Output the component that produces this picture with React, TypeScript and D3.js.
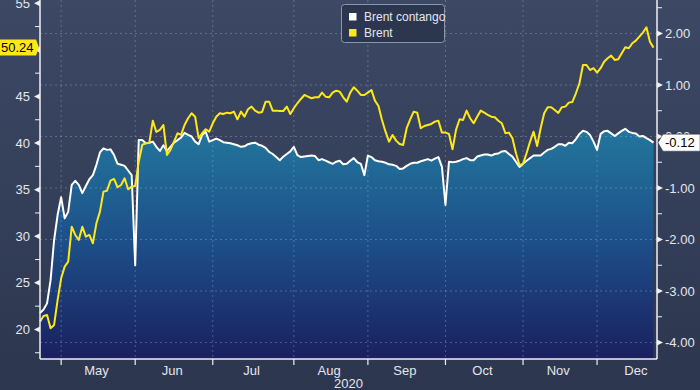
import * as d3 from 'd3';

// Brent front-month price, USD (left axis), one value per weekday from 23 Apr 2020
const BRENT = [
  20.84, 21.45, 21.56, 20.13, 20.48, 23.17, 25.49, 26.74, 27.27, 31.03,
  30.14, 29.60, 31.03, 29.96, 30.14, 29.25, 31.39, 32.64, 34.79, 34.89,
  35.97, 36.15, 35.26, 35.50, 36.22, 35.04, 35.32, 35.40, 38.00, 39.80,
  39.98, 40.04, 42.40, 41.19, 41.41, 41.94, 38.72, 39.26, 40.15, 41.05,
  40.87, 41.94, 42.66, 43.20, 42.83, 40.52, 41.05, 41.48, 41.22, 42.12,
  42.83, 43.20, 43.12, 43.26, 43.20, 43.37, 42.55, 43.37, 42.83, 43.63,
  43.91, 43.48, 43.26, 43.34, 44.44, 44.44, 43.48, 43.48, 43.44, 43.44,
  43.91, 43.12, 43.73, 44.27, 44.73, 45.16, 44.98, 44.81, 44.91, 44.91,
  45.41, 44.98, 44.91, 45.41, 45.62, 45.52, 44.91, 44.44, 45.41, 45.99,
  45.62, 45.16, 45.16, 45.41, 45.70, 44.55, 43.98, 42.48, 41.22, 40.15,
  40.87, 40.26, 39.90, 39.80, 41.59, 42.55, 43.37, 43.26, 41.59, 41.83,
  41.94, 42.05, 42.30, 42.40, 41.12, 41.12, 40.98, 39.33, 41.41, 42.55,
  42.48, 43.48, 42.66, 42.12, 42.83, 43.48, 43.26, 43.02, 42.83, 42.77,
  42.40, 42.12, 41.05, 41.12, 40.52, 38.91, 37.65, 37.76, 38.91, 40.15,
  41.22, 39.69, 41.59, 43.20, 43.84, 43.84, 43.55, 43.23, 43.84, 43.91,
  44.34, 44.41, 45.34, 46.42, 48.38, 48.38, 47.84, 48.03, 47.55, 48.03,
  48.73, 49.10, 49.38, 48.92, 48.99, 49.64, 50.28, 50.17, 50.71, 50.99,
  51.42, 51.85, 52.42, 50.88, 50.24,
];

// Brent contango spread, USD (right axis)
const CONTANGO = [
  -3.43, -3.36, -3.24, -2.79, -2.01, -1.52, -1.18, -1.59, -1.46, -0.94,
  -0.86, -0.94, -1.10, -0.96, -0.83, -0.75, -0.55, -0.31, -0.23, -0.26,
  -0.25, -0.36, -0.53, -0.55, -0.57, -0.66, -0.75, -2.50, -0.07, -0.07,
  -0.13, -0.12, -0.10, -0.20, -0.28, -0.17, -0.28, -0.20, -0.12, -0.07,
  -0.02, 0.07, 0.03, 0.00, -0.10, -0.15, 0.03, 0.09, -0.10, -0.07,
  -0.04, -0.07, -0.11, -0.12, -0.13, -0.15, -0.17, -0.20, -0.19, -0.15,
  -0.13, -0.12, -0.16, -0.18, -0.22, -0.30, -0.34, -0.40, -0.46, -0.39,
  -0.34, -0.29, -0.20, -0.36, -0.40, -0.39, -0.38, -0.37, -0.38, -0.46,
  -0.44, -0.47, -0.50, -0.53, -0.49, -0.47, -0.54, -0.53, -0.47, -0.42,
  -0.50, -0.53, -0.75, -0.37, -0.40, -0.46, -0.48, -0.49, -0.51, -0.54,
  -0.55, -0.57, -0.63, -0.62, -0.57, -0.53, -0.51, -0.51, -0.48, -0.46,
  -0.44, -0.47, -0.43, -0.40, -0.59, -1.33, -0.49, -0.50, -0.49, -0.47,
  -0.44, -0.42, -0.46, -0.46, -0.39, -0.37, -0.35, -0.35, -0.37, -0.34,
  -0.33, -0.29, -0.28, -0.34, -0.39, -0.49, -0.59, -0.53, -0.47, -0.42,
  -0.37, -0.37, -0.37, -0.31, -0.26, -0.24, -0.20, -0.15, -0.15, -0.18,
  -0.12, -0.13, -0.05, 0.05, 0.11, 0.09, 0.03, -0.10, -0.26, 0.05,
  0.10, 0.11, 0.06, 0.01, 0.06, 0.11, 0.15, 0.09, 0.07, 0.06,
  0.00, 0.01, -0.03, -0.07, -0.12,
];

const LEFT_TICKS = [20, 25, 30, 35, 40, 45, 50, 55];
const RIGHT_TICKS = [2, 1, 0, -1, -2, -3, -4];
const MONTHS = ['Jan', 'Feb', 'Mar', 'Apr', 'May', 'Jun', 'Jul', 'Aug', 'Sep', 'Oct', 'Nov', 'Dec'];
const YEAR_LABEL = '2020';
const LEGEND = ['Brent contango', 'Brent'];

const W = 700;
const H = 390;
const PLOT = { left: 40, right: 657, top: 0, bottom: 359 };
const FONT = '"Liberation Sans", Arial, sans-serif';
const YELLOW = '#ffe81a';
const TEXT = '#e4e6ec';
const GRID = 'rgba(170,185,215,0.45)';

// weekday axis (no weekend gaps), like the terminal chart
const DAYS = d3.timeDay
  .range(new Date(2020, 3, 23), new Date(2021, 0, 1))
  .filter((d) => d.getDay() !== 0 && d.getDay() !== 6);

export default function App() {
  const x = d3.scaleLinear().domain([0, 175]).range([PLOT.left, PLOT.right]);
  const yL = d3.scaleLinear().domain([16.83, 55.35]).range([PLOT.bottom, PLOT.top]);
  const yR = d3.scaleLinear().domain([-4.32, 2.65]).range([PLOT.bottom, PLOT.top]);

  // first weekday index of each month
  const monthStarts: { idx: number; m: number }[] = [];
  DAYS.forEach((d, i) => {
    if (i > 0 && d.getMonth() !== DAYS[i - 1].getMonth()) monthStarts.push({ idx: i, m: d.getMonth() });
  });
  const monthLabels = monthStarts.map((s, k) => {
    const end = k + 1 < monthStarts.length ? monthStarts[k + 1].idx : DAYS.length;
    return { m: s.m, mid: (s.idx + end - 1) / 2 };
  });

  const area = d3.area<number>()
    .x((_, i) => x(i))
    .y0(PLOT.bottom)
    .y1((d) => yR(d));
  const lineR = d3.line<number>().x((_, i) => x(i)).y((d) => yR(d));
  const lineL = d3.line<number>().x((_, i) => x(i)).y((d) => yL(d));

  const leftMinor = d3.range(17.5, 55.1, 2.5).filter((v) => v % 5 !== 0);
  const rightMinor = d3.range(-3.5, 2.6, 1);

  const lastL = BRENT[BRENT.length - 1];
  const lastR = CONTANGO[CONTANGO.length - 1];
  const cyL = yL(lastL);
  const cyR = yR(lastR);
  const fmtR = (v: number) => (v < 0 ? '-' : '') + Math.abs(v).toFixed(2);

  return (
    <svg
      width={W}
      height={H}
      style={{ position: 'absolute', left: 0, top: 0, display: 'block' }}
      fontFamily={FONT}
    >
      <defs>
        <linearGradient id="bg" x1="0" y1="0" x2="0" y2="1">
          <stop offset="0" stopColor="#3d4865" />
          <stop offset="1" stopColor="#2c364e" />
        </linearGradient>
        <linearGradient id="fill" gradientUnits="userSpaceOnUse" x1="0" y1="125" x2="0" y2={PLOT.bottom}>
          <stop offset="0" stopColor="#22789e" />
          <stop offset="0.5" stopColor="#1d4f88" />
          <stop offset="1" stopColor="#1a2060" />
        </linearGradient>
      </defs>
      <rect width={W} height={H} fill="url(#bg)" />

      {/* contango area */}
      <path d={area(CONTANGO) ?? ''} fill="url(#fill)" />

      {/* grid */}
      {RIGHT_TICKS.map((v) => (
        <line key={'gh' + v} x1={PLOT.left} x2={PLOT.right} y1={yR(v)} y2={yR(v)}
          stroke={GRID} strokeWidth={0.8} strokeDasharray="2,3" />
      ))}
      {monthStarts.filter((s) => x(s.idx) < PLOT.right).map((s) => (
        <line key={'gv' + s.idx} x1={x(s.idx)} x2={x(s.idx)} y1={PLOT.top} y2={PLOT.bottom}
          stroke={GRID} strokeWidth={0.8} strokeDasharray="2,3" />
      ))}

      {/* series */}
      <path d={lineR(CONTANGO) ?? ''} fill="none" stroke="#ffffff" strokeWidth={2} strokeLinejoin="round" />
      <path d={lineL(BRENT) ?? ''} fill="none" stroke={YELLOW} strokeWidth={2} strokeLinejoin="round" />

      {/* axes */}
      <g stroke="#f0f0f0" strokeWidth={1.5}>
        <line x1={PLOT.left} x2={PLOT.left} y1={0} y2={PLOT.bottom} />
        <line x1={PLOT.right} x2={PLOT.right} y1={0} y2={PLOT.bottom} />
        <line x1={PLOT.left} x2={PLOT.right} y1={PLOT.bottom} y2={PLOT.bottom} />
      </g>

      {/* left axis */}
      {leftMinor.map((v) => (
        <line key={'lm' + v} x1={PLOT.left - 5} x2={PLOT.left} y1={yL(v)} y2={yL(v)} stroke="#f0f0f0" strokeWidth={1} />
      ))}
      {LEFT_TICKS.map((v) => (
        <g key={'lt' + v}>
          <path d={`M${PLOT.left},${yL(v) - 3}L${PLOT.left - 6},${yL(v)}L${PLOT.left},${yL(v) + 3}Z`} fill="#f0f0f0" />
          <text x={30} y={yL(v)} dy="0.35em" textAnchor="end" fontSize={13} fill={TEXT}>{v}</text>
        </g>
      ))}

      {/* right axis */}
      {rightMinor.map((v) => (
        <line key={'rm' + v} x1={PLOT.right} x2={PLOT.right + 5} y1={yR(v)} y2={yR(v)} stroke="#f0f0f0" strokeWidth={1} />
      ))}
      {RIGHT_TICKS.map((v) => (
        <g key={'rt' + v}>
          <path d={`M${PLOT.right},${yR(v) - 3}L${PLOT.right + 6},${yR(v)}L${PLOT.right},${yR(v) + 3}Z`} fill="#f0f0f0" />
          <text x={665} y={yR(v)} dy="0.35em" fontSize={13} fill={TEXT}>{fmtR(v)}</text>
        </g>
      ))}

      {/* bottom axis */}
      {monthStarts.filter((s) => x(s.idx) < PLOT.right).map((s) => (
        <line key={'bt' + s.idx} x1={x(s.idx)} x2={x(s.idx)} y1={PLOT.bottom} y2={PLOT.bottom + 6}
          stroke="#f0f0f0" strokeWidth={1.2} />
      ))}
      {monthLabels.map((l) => (
        <text key={'ml' + l.m} x={x(l.mid)} y={375} textAnchor="middle" fontSize={13} fill={TEXT}>
          {MONTHS[l.m]}
        </text>
      ))}
      <text x={(PLOT.left + PLOT.right) / 2} y={388} textAnchor="middle" fontSize={13} fill={TEXT}>{YEAR_LABEL}</text>

      {/* last value callouts */}
      <path d={`M0,${cyL - 8}H36L${PLOT.left - 1},${cyL}L36,${cyL + 8}H0Z`} fill={YELLOW} />
      <text x={1} y={cyL} dy="0.36em" fontSize={13} fill="#000">{lastL.toFixed(2)}</text>
      <path d={`M${PLOT.right + 1},${cyR}L${PLOT.right + 6},${cyR - 8.5}H700V${cyR + 8.5}H${PLOT.right + 6}Z`}
        fill="#ffffff" stroke="#333" strokeWidth={0.5} />
      <text x={665} y={cyR} dy="0.36em" fontSize={13} fill="#000">{fmtR(lastR)}</text>

      {/* legend */}
      <rect x={341.5} y={4.5} width={103} height={38} rx={3} fill="#2c364e" stroke="#8c97ab" strokeWidth={1} />
      <rect x={349} y={13} width={7.5} height={7.5} fill="#ffffff" />
      <text x={364} y={21} fontSize={12} fill={TEXT}>{LEGEND[0]}</text>
      <rect x={349} y={29} width={7.5} height={7.5} fill={YELLOW} />
      <text x={364} y={37} fontSize={12} fill={TEXT}>{LEGEND[1]}</text>
    </svg>
  );
}
